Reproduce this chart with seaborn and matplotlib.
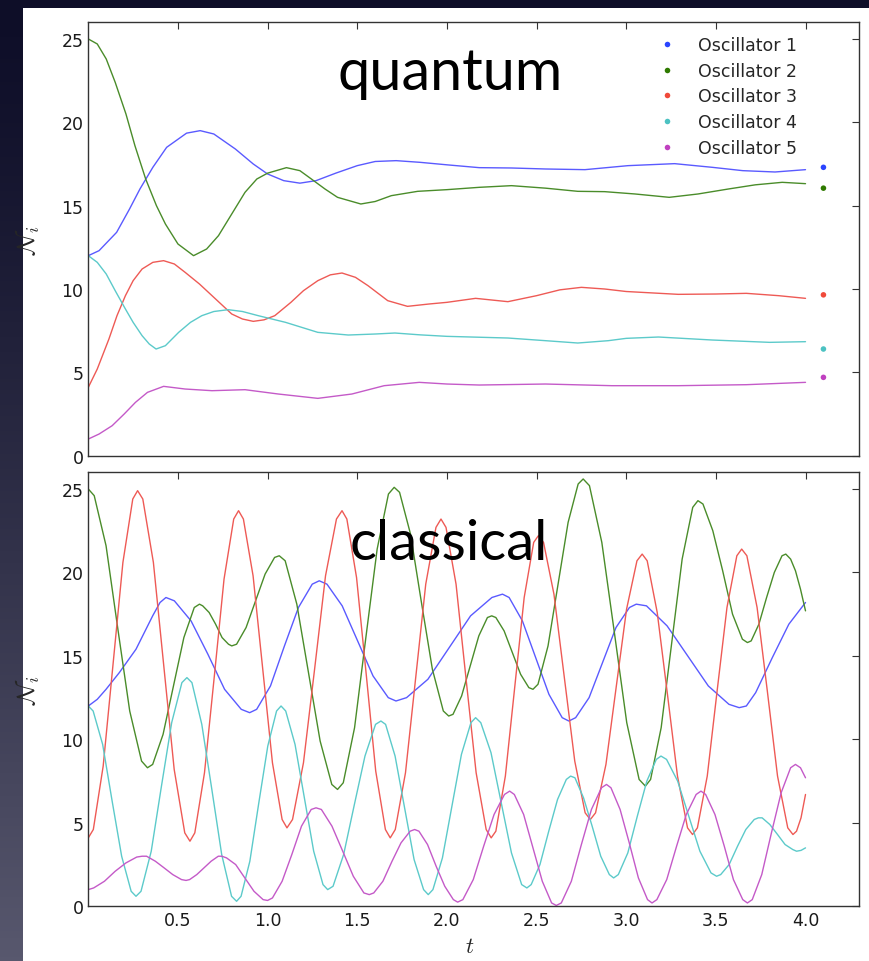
import numpy as np
import pandas as pd
import matplotlib
matplotlib.use("Agg")
import matplotlib.pyplot as plt
import seaborn as sns
from matplotlib.patches import Rectangle

OSC_NAMES = ["Oscillator 1", "Oscillator 2", "Oscillator 3", "Oscillator 4", "Oscillator 5"]
LINE_COLORS = ["#5a5aff", "#4a8c2a", "#ee5a55", "#5ccaca", "#c45ac8"]
DOT_COLORS = ["#2a44ff", "#2f7a00", "#f04a3a", "#4cc2c2", "#c040c0"]
XTICKS = [0.5, 1.0, 1.5, 2.0, 2.5, 3.0, 3.5, 4.0]
YTICKS = [0, 5, 10, 15, 20, 25]

# ---- quantum panel ----
Q1_T = [0.0, 0.06, 0.158, 0.23, 0.288, 0.36, 0.437, 0.548, 0.624, 0.7, 0.82, 0.92, 1.0, 1.09, 1.18, 1.27,
        1.38, 1.5, 1.6, 1.717, 1.85, 2.0, 2.18, 2.36, 2.55, 2.77, 3.01, 3.27, 3.48, 3.65, 3.83, 4.0]
Q1_N = [12.0, 12.3, 13.4, 14.8, 16.0, 17.3, 18.5, 19.35, 19.5, 19.3, 18.4, 17.5, 16.9, 16.5, 16.35, 16.5,
        16.95, 17.4, 17.65, 17.7, 17.6, 17.45, 17.28, 17.26, 17.2, 17.16, 17.4, 17.52, 17.3, 17.1, 17.02, 17.16]
Q2_T = [0.0, 0.05, 0.1, 0.15, 0.21, 0.26, 0.32, 0.38, 0.43, 0.5, 0.587, 0.66, 0.726, 0.8, 0.874, 0.94, 1.0,
        1.105, 1.18, 1.244, 1.32, 1.39, 1.52, 1.6, 1.69, 1.837, 2.0, 2.18, 2.36, 2.55, 2.73, 2.88, 3.05, 3.24,
        3.4, 3.57, 3.72, 3.87, 4.0]
Q2_N = [25.0, 24.7, 23.8, 22.4, 20.5, 18.6, 16.6, 15.0, 13.9, 12.7, 12.0, 12.4, 13.2, 14.5, 15.8, 16.6, 16.95,
        17.28, 17.1, 16.6, 16.0, 15.5, 15.1, 15.25, 15.6, 15.86, 15.96, 16.1, 16.2, 16.05, 15.86, 15.84, 15.7, 15.5,
        15.7, 16.0, 16.25, 16.4, 16.32]
Q3_T = [0.0, 0.05, 0.115, 0.16, 0.207, 0.25, 0.3, 0.36, 0.42, 0.48, 0.54, 0.62, 0.69, 0.8, 0.86, 0.92, 0.98,
        1.04, 1.13, 1.2, 1.28, 1.35, 1.415, 1.49, 1.56, 1.67, 1.78, 1.9, 2.0, 2.16, 2.34, 2.5, 2.63, 2.75, 2.88,
        3.0, 3.29, 3.5, 3.67, 3.85, 4.0]
Q3_N = [4.1, 5.2, 7.0, 8.4, 9.6, 10.5, 11.2, 11.6, 11.7, 11.5, 11.0, 10.3, 9.6, 8.5, 8.2, 8.06, 8.15,
        8.4, 9.2, 9.9, 10.5, 10.85, 10.96, 10.7, 10.2, 9.3, 8.96, 9.1, 9.2, 9.44, 9.24, 9.6, 9.95, 10.1, 10.0,
        9.85, 9.68, 9.7, 9.74, 9.6, 9.44]
Q4_T = [0.0, 0.05, 0.1, 0.15, 0.207, 0.25, 0.3, 0.34, 0.378, 0.43, 0.504, 0.57, 0.633, 0.7, 0.78, 0.86, 0.948,
        1.1, 1.28, 1.45, 1.6, 1.71, 1.85, 2.0, 2.34, 2.55, 2.73, 2.9, 3.0, 3.18, 3.48, 3.8, 4.0]
Q4_N = [12.0, 11.6, 10.9, 9.9, 8.8, 8.0, 7.2, 6.7, 6.4, 6.6, 7.4, 8.0, 8.4, 8.65, 8.76, 8.65, 8.4,
        8.0, 7.4, 7.24, 7.3, 7.36, 7.25, 7.16, 7.06, 6.9, 6.76, 6.9, 7.04, 7.12, 6.94, 6.8, 6.84]
Q5_T = [0.0, 0.06, 0.133, 0.2, 0.263, 0.33, 0.42, 0.54, 0.69, 0.874, 1.06, 1.28, 1.47, 1.65, 1.846, 2.0,
        2.18, 2.55, 2.92, 3.29, 3.67, 4.0]
Q5_N = [1.0, 1.3, 1.8, 2.5, 3.2, 3.8, 4.16, 4.0, 3.9, 3.96, 3.7, 3.44, 3.7, 4.2, 4.4, 4.3,
        4.24, 4.3, 4.2, 4.2, 4.26, 4.4]
# long-time values shown as dots
Q_FINAL_T = 4.1
Q_FINAL_N = [17.3, 16.05, 9.65, 6.4, 4.7]

# ---- classical panel ----
C1_T = [0.0, 0.05, 0.099, 0.173, 0.266, 0.359, 0.40, 0.433, 0.48, 0.573, 0.667, 0.76, 0.853, 0.90,
        0.939, 1.016, 1.094, 1.172, 1.249, 1.288, 1.331, 1.416, 1.502, 1.588, 1.673, 1.716,
        1.775, 1.894, 2.013, 2.132, 2.251, 2.31, 2.347, 2.421, 2.495, 2.569, 2.643, 2.68,
        2.718, 2.793, 2.868, 2.943, 3.018, 3.056, 3.113, 3.228, 3.343, 3.458, 3.573, 3.63,
        3.67, 3.722, 3.815, 3.907, 4.0]
C1_N = [12.0, 12.4, 13.0, 14.0, 15.4, 17.4, 18.2, 18.5, 18.3, 17.1, 15.1, 13.0, 11.8, 11.6,
        11.8, 13.2, 15.6, 17.9, 19.3, 19.5, 19.3, 18.0, 15.9, 13.8, 12.5, 12.3,
        12.5, 13.6, 15.5, 17.4, 18.5, 18.7, 18.5, 17.1, 14.9, 12.7, 11.3, 11.1,
        11.3, 12.5, 14.6, 16.7, 17.9, 18.1, 18.0, 16.8, 15.0, 13.2, 12.1, 11.9,
        12.0, 12.8, 14.9, 16.9, 18.2]
C2_T = [0.0, 0.033, 0.099, 0.165, 0.231, 0.297, 0.33, 0.359, 0.417, 0.475, 0.533, 0.591, 0.62,
        0.638, 0.674, 0.71, 0.746, 0.782, 0.80, 0.827, 0.88, 0.933, 0.986, 1.039, 1.065,
        1.098, 1.163, 1.228, 1.293, 1.358, 1.39, 1.422, 1.485, 1.548, 1.611, 1.674, 1.706,
        1.736, 1.797, 1.858, 1.919, 1.98, 2.01, 2.034, 2.082, 2.13, 2.178, 2.226, 2.25,
        2.273, 2.319, 2.365, 2.411, 2.457, 2.48, 2.508, 2.564, 2.62, 2.676, 2.732, 2.76,
        2.795, 2.864, 2.934, 3.003, 3.072, 3.107, 3.136, 3.195, 3.254, 3.312, 3.371, 3.40,
        3.428, 3.483, 3.538, 3.593, 3.648, 3.676, 3.697, 3.74, 3.783, 3.826, 3.869, 3.89,
        3.917, 3.944, 3.972, 4.0]
C2_N = [25.0, 24.6, 21.6, 16.6, 11.7, 8.7, 8.3, 8.5, 10.3, 13.2, 16.1, 17.9, 18.1,
        18.0, 17.6, 16.9, 16.1, 15.7, 15.6, 15.7, 16.7, 18.3, 19.9, 20.9, 21.0,
        20.7, 18.1, 14.0, 9.9, 7.3, 7.0, 7.4, 10.7, 16.1, 21.4, 24.7, 25.1,
        24.8, 22.3, 18.2, 14.2, 11.7, 11.4, 11.5, 12.6, 14.4, 16.2, 17.3, 17.4,
        17.3, 16.5, 15.2, 13.9, 13.1, 13.0, 13.3, 15.6, 19.3, 23.0, 25.3, 25.6,
        25.2, 21.8, 16.4, 11.0, 7.6, 7.2, 7.6, 10.7, 15.8, 20.8, 23.9, 24.3,
        24.1, 22.5, 20.1, 17.5, 16.0, 15.8, 15.9, 16.9, 18.5, 20.0, 21.0, 21.1,
        20.8, 20.1, 19.0, 17.7]
C3_T = [0.0, 0.028, 0.083, 0.138, 0.193, 0.248, 0.275, 0.304, 0.363, 0.421, 0.479, 0.538, 0.567,
        0.594, 0.648, 0.703, 0.757, 0.811, 0.838, 0.865, 0.919, 0.973, 1.027, 1.081, 1.108,
        1.139, 1.2, 1.262, 1.323, 1.384, 1.415, 1.442, 1.496, 1.55, 1.603, 1.657, 1.684,
        1.712, 1.769, 1.826, 1.882, 1.939, 1.967, 1.995, 2.051, 2.107, 2.163, 2.219, 2.247,
        2.273, 2.326, 2.379, 2.431, 2.484, 2.51, 2.539, 2.597, 2.655, 2.713, 2.771, 2.80,
        2.829, 2.887, 2.945, 3.002, 3.06, 3.089, 3.117, 3.173, 3.23, 3.286, 3.342, 3.37,
        3.397, 3.452, 3.507, 3.562, 3.617, 3.644, 3.673, 3.73, 3.787, 3.844, 3.901, 3.93,
        3.95, 3.975, 4.0]
C3_N = [4.1, 4.6, 8.4, 14.5, 20.6, 24.4, 24.9, 24.4, 20.6, 14.4, 8.2, 4.4, 3.9,
        4.4, 8.0, 13.8, 19.6, 23.2, 23.7, 23.2, 19.8, 14.2, 8.6, 5.2, 4.7,
        5.2, 8.6, 14.2, 19.8, 23.2, 23.7, 23.2, 19.7, 13.9, 8.1, 4.6, 4.1,
        4.6, 8.0, 13.7, 19.3, 22.7, 23.2, 22.7, 19.3, 13.6, 8.0, 4.6, 4.1,
        4.5, 7.8, 13.2, 18.5, 21.8, 22.2, 21.8, 18.7, 13.7, 8.7, 5.6, 5.2,
        5.6, 8.5, 13.2, 17.8, 20.7, 21.1, 20.7, 17.6, 12.7, 7.8, 4.7, 4.3,
        4.7, 7.8, 12.9, 17.9, 21.0, 21.4, 21.0, 17.9, 12.9, 7.8, 4.7, 4.3,
        4.5, 5.3, 6.7]
C4_T = [0.0, 0.027, 0.08, 0.133, 0.186, 0.239, 0.266, 0.294, 0.351, 0.408, 0.465, 0.522, 0.55,
        0.578, 0.633, 0.689, 0.744, 0.799, 0.827, 0.852, 0.901, 0.951, 1.001, 1.05, 1.075,
        1.101, 1.153, 1.205, 1.257, 1.309, 1.335, 1.365, 1.424, 1.484, 1.543, 1.602, 1.632,
        1.658, 1.711, 1.764, 1.817, 1.87, 1.896, 1.922, 1.975, 2.028, 2.081, 2.134, 2.16,
        2.189, 2.246, 2.303, 2.36, 2.417, 2.446, 2.47, 2.519, 2.568, 2.617, 2.666, 2.69,
        2.714, 2.762, 2.81, 2.858, 2.906, 2.93, 2.956, 3.009, 3.062, 3.115, 3.168, 3.194,
        3.225, 3.287, 3.349, 3.411, 3.473, 3.504, 3.527, 3.574, 3.621, 3.667, 3.714, 3.737,
        3.758, 3.801, 3.844, 3.886, 3.929, 3.95, 3.975, 4.0]
C4_N = [12.0, 11.7, 9.7, 6.3, 3.0, 0.9, 0.6, 0.9, 3.3, 7.2, 11.0, 13.4, 13.7,
        13.4, 10.9, 7.0, 3.1, 0.6, 0.3, 0.6, 2.7, 6.2, 9.6, 11.7, 12.0,
        11.7, 9.7, 6.5, 3.3, 1.3, 1.0, 1.2, 3.1, 6.1, 9.0, 10.9, 11.1,
        10.9, 9.0, 5.9, 2.8, 1.0, 0.7, 1.0, 2.9, 6.0, 9.1, 11.0, 11.3,
        11.0, 9.2, 6.2, 3.2, 1.3, 1.1, 1.3, 2.5, 4.5, 6.4, 7.6, 7.8,
        7.7, 6.5, 4.8, 3.0, 1.9, 1.7, 1.9, 3.2, 5.4, 7.5, 8.8, 9.0,
        8.8, 7.5, 5.4, 3.3, 2.0, 1.8, 1.9, 2.5, 3.6, 4.6, 5.2, 5.3,
        5.3, 4.9, 4.3, 3.7, 3.4, 3.3, 3.35, 3.5]
C5_T = [0.0, 0.03, 0.09, 0.15, 0.21, 0.27, 0.30, 0.325, 0.374, 0.423, 0.471, 0.52, 0.545,
        0.565, 0.605, 0.645, 0.685, 0.725, 0.745, 0.771, 0.822, 0.873, 0.924, 0.975, 1.0,
        1.027, 1.081, 1.135, 1.189, 1.243, 1.27, 1.3, 1.359, 1.419, 1.478, 1.537, 1.567,
        1.592, 1.643, 1.694, 1.744, 1.795, 1.82, 1.844, 1.892, 1.94, 1.988, 2.036, 2.06,
        2.089, 2.147, 2.205, 2.263, 2.321, 2.35, 2.376, 2.428, 2.48, 2.532, 2.584, 2.61,
        2.638, 2.694, 2.75, 2.806, 2.862, 2.89, 2.915, 2.966, 3.017, 3.068, 3.119, 3.144,
        3.171, 3.226, 3.281, 3.335, 3.39, 3.417, 3.443, 3.495, 3.547, 3.598, 3.65, 3.676,
        3.703, 3.756, 3.81, 3.864, 3.917, 3.944, 3.972, 4.0]
C5_N = [1.0, 1.1, 1.5, 2.1, 2.6, 2.95, 3.0, 3.0, 2.7, 2.3, 1.9, 1.6, 1.55,
        1.6, 1.9, 2.3, 2.7, 3.0, 3.0, 2.9, 2.5, 1.7, 0.9, 0.4, 0.35,
        0.5, 1.5, 3.1, 4.8, 5.8, 5.9, 5.8, 4.8, 3.3, 1.8, 0.8, 0.7,
        0.8, 1.5, 2.7, 3.8, 4.5, 4.6, 4.5, 3.7, 2.4, 1.2, 0.4, 0.25,
        0.4, 1.6, 3.6, 5.5, 6.7, 6.9, 6.7, 5.5, 3.5, 1.5, 0.2, 0.05,
        0.2, 1.5, 3.7, 5.8, 7.1, 7.3, 7.1, 5.8, 3.8, 1.7, 0.4, 0.2,
        0.4, 1.6, 3.6, 5.5, 6.7, 6.9, 6.7, 5.5, 3.6, 1.6, 0.4, 0.2,
        0.4, 1.9, 4.4, 6.8, 8.3, 8.5, 8.3, 7.7]


def to_long(pairs):
    frames = [pd.DataFrame({"t": t, "N": n, "osc": name}) for name, (t, n) in zip(OSC_NAMES, pairs)]
    return pd.concat(frames, ignore_index=True)


quantum = to_long([(Q1_T, Q1_N), (Q2_T, Q2_N), (Q3_T, Q3_N), (Q4_T, Q4_N), (Q5_T, Q5_N)])
classical = to_long([(C1_T, C1_N), (C2_T, C2_N), (C3_T, C3_N), (C4_T, C4_N), (C5_T, C5_N)])
final = pd.DataFrame({"t": [Q_FINAL_T] * 5, "N": Q_FINAL_N, "osc": OSC_NAMES})

sns.set_theme(style="white")
plt.rcParams.update({
    "font.family": ["DejaVu Sans"], "mathtext.fontset": "cm",
    "xtick.direction": "in", "ytick.direction": "in",
    "xtick.top": True, "ytick.right": True,
    "xtick.major.size": 5, "ytick.major.size": 5,
    "xtick.major.width": 0.8, "ytick.major.width": 0.8,
    "xtick.labelsize": 12.5, "ytick.labelsize": 12.5,
    "axes.edgecolor": "#333333", "axes.linewidth": 1.0,
    "xtick.color": "#333333", "ytick.color": "#333333",
    "xtick.labelcolor": "#1a1a1a", "ytick.labelcolor": "#1a1a1a",
})

W, H = 869, 962
fig = plt.figure(figsize=(W / 100, H / 100), dpi=100)

# slide background + white plot card
bg = fig.add_axes([0, 0, 1, 1], zorder=-10)
grad = np.linspace(0, 1, 256)[:, None]
top, bot = np.array([14, 14, 40]) / 255, np.array([88, 88, 110]) / 255
bg.imshow((top + (bot - top) * grad ** 1.3)[:, None, :].repeat(2, axis=1), aspect="auto",
          extent=[0, 1, 0, 1], origin="upper")
bg.add_patch(Rectangle((23 / W, 0), 1 - 23 / W, 1 - 9 / H, transform=bg.transAxes,
                       facecolor="white", edgecolor="none"))
bg.set_xlim(0, 1); bg.set_ylim(0, 1); bg.axis("off")

left, right = 88.3 / W, 859.3 / W
ax1 = fig.add_axes([left, 1 - 456.7 / H, right - left, (456.7 - 23.3) / H])
ax2 = fig.add_axes([left, 1 - 907.3 / H, right - left, (907.3 - 473.3) / H])

line_pal = dict(zip(OSC_NAMES, LINE_COLORS))
dot_pal = dict(zip(OSC_NAMES, DOT_COLORS))

sns.lineplot(data=quantum, x="t", y="N", hue="osc", palette=line_pal, estimator=None,
             sort=False, legend=False, lw=1.0, ax=ax1)
sns.scatterplot(data=final, x="t", y="N", hue="osc", palette=dot_pal, s=16,
                edgecolor="none", ax=ax1)
sns.lineplot(data=classical, x="t", y="N", hue="osc", palette=line_pal, estimator=None,
             sort=False, legend=False, lw=1.0, ax=ax2)

handles, labels = ax1.get_legend_handles_labels()
ax1.legend(handles, labels, loc="upper left", bbox_to_anchor=(0.728, 0.968), frameon=False,
           fontsize=12.5, labelspacing=0.44, borderpad=0, borderaxespad=0,
           handletextpad=0.8, handlelength=2.0)

for ax in (ax1, ax2):
    ax.set_xlim(0, 4.3)
    ax.set_ylim(0, 26)
    ax.set_xticks(XTICKS)
    ax.set_yticks(YTICKS)
    ax.set_ylabel(r"$\mathcal{N}_i$", fontsize=18)
    ax.yaxis.set_label_coords(-0.06, 0.5)
    ax.tick_params(top=True, right=True, direction="in")
    for s in ax.spines.values():
        s.set_visible(True)

ax1.set_xlabel("")
ax1.tick_params(labelbottom=False)
ax2.set_xlabel(r"$t$", fontsize=16)
ax2.xaxis.set_label_coords(0.495, -0.068)

fig.text(338 / W, 1 - 90 / H, "quantum", fontsize=41.5, family="Lato", color="black",
         ha="left", va="baseline")
fig.text(350 / W, 1 - 560 / H, "classical", fontsize=40.5, family="Lato", color="black",
         ha="left", va="baseline")

fig.savefig("out.png", dpi=100)
